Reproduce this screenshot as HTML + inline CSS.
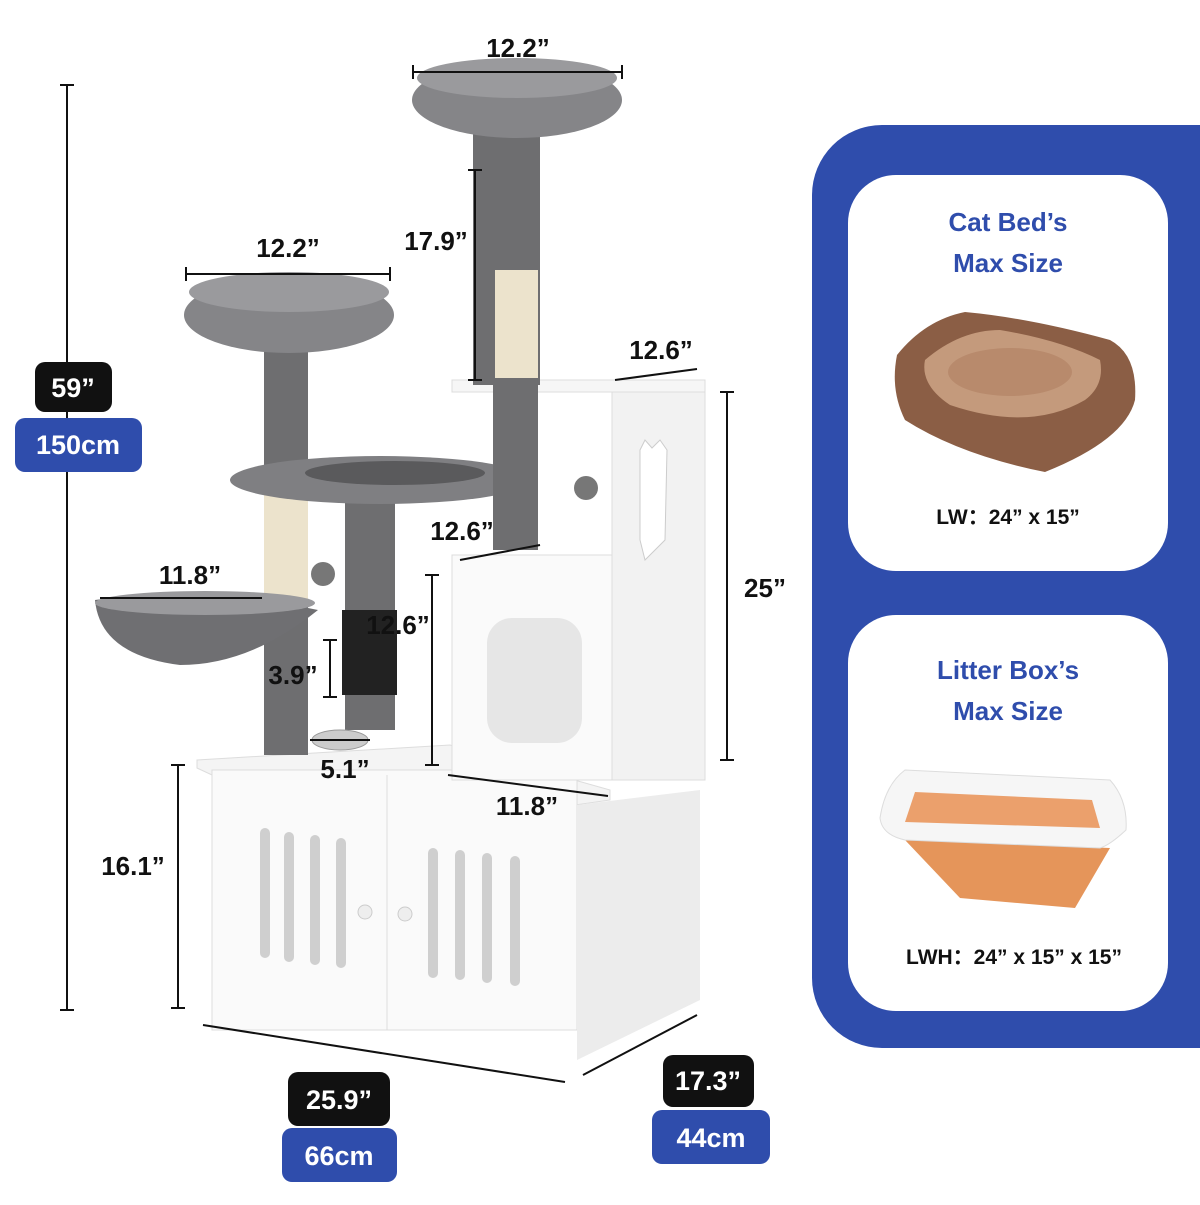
<!DOCTYPE html>
<html><head><meta charset="utf-8"><style>
body{margin:0;background:#fff;width:1200px;height:1200px;overflow:hidden;font-family:"Liberation Sans",sans-serif}
</style></head><body>
<svg width="1200" height="1200" viewBox="0 0 1200 1200" xmlns="http://www.w3.org/2000/svg" font-family="Liberation Sans, sans-serif">
<rect width="1200" height="1200" fill="#fff"/>
<!-- blue panel -->
<rect x="812" y="125" width="460" height="923" rx="70" fill="#2f4dac"/>
<rect x="848" y="175" width="320" height="396" rx="48" fill="#fff"/>
<rect x="848" y="615" width="320" height="396" rx="48" fill="#fff"/>
<g fill="#2f4dac" font-weight="bold" font-size="26" text-anchor="middle">
<text x="1008" y="231">Cat Bed’s</text><text x="1008" y="272">Max Size</text>
<text x="1008" y="679">Litter Box’s</text><text x="1008" y="720">Max Size</text>
</g>
<g fill="#111" font-weight="bold" font-size="21" text-anchor="middle">
<text x="1008" y="524">LW：24” x 15”</text>
<text x="1014" y="964">LWH：24” x 15” x 15”</text>
</g>
<!-- cat bed -->
<path d="M897 355 Q925 320 965 312 Q1030 318 1110 340 Q1138 355 1135 400 Q1125 440 1045 472 Q960 455 905 420 Q890 390 897 355Z" fill="#8b5e45"/>
<path d="M925 360 Q960 330 1000 330 Q1060 340 1100 360 Q1105 385 1085 400 Q1030 432 950 405 Q920 385 925 360Z" fill="#c49a7c"/>
<ellipse cx="1010" cy="372" rx="62" ry="24" fill="#b88a6c"/>
<!-- litter box -->
<path d="M905 840 L1110 848 L1075 908 L960 898 Z" fill="#e5955a"/>
<path d="M880 818 Q885 785 905 770 L1110 780 Q1128 800 1126 830 Q1110 845 1100 848 L905 840 Q882 835 880 818Z" fill="#f6f6f6" stroke="#ddd"/>
<path d="M915 792 L1092 800 L1100 828 L905 822 Z" fill="#eba06c"/>
<!-- left 59 line -->
<g stroke="#111" stroke-width="2">
<line x1="67" y1="85" x2="67" y2="1010"/><line x1="60" y1="85" x2="74" y2="85"/><line x1="60" y1="1010" x2="74" y2="1010"/>
</g>
<rect x="35" y="362" width="77" height="50" rx="10" fill="#111"/>
<rect x="15" y="418" width="127" height="54" rx="10" fill="#2f4dac"/>
<rect x="288" y="1072" width="102" height="54" rx="10" fill="#111"/>
<rect x="282" y="1128" width="115" height="54" rx="10" fill="#2f4dac"/>
<rect x="663" y="1055" width="91" height="52" rx="10" fill="#111"/>
<rect x="652" y="1110" width="118" height="54" rx="10" fill="#2f4dac"/>
<g fill="#fff" font-weight="bold" font-size="27" text-anchor="middle">
<text x="73" y="397">59”</text><text x="78" y="454">150cm</text>
<text x="339" y="1109">25.9”</text><text x="339" y="1165">66cm</text>
<text x="708" y="1090">17.3”</text><text x="711" y="1147">44cm</text>
</g>
<!-- cabinet -->
<polygon points="197,760 450,745 610,790 610,800 575,805 212,775 197,768" fill="#f4f4f4" stroke="#ddd"/>
<rect x="212" y="770" width="365" height="260" fill="#fafafa" stroke="#ddd"/>
<polygon points="577,805 700,790 700,1000 577,1060" fill="#ececec"/>
<line x1="387" y1="775" x2="387" y2="1030" stroke="#ddd"/>
<g fill="#cfcfcf">
<rect x="260" y="828" width="10" height="130" rx="5"/><rect x="284" y="832" width="10" height="130" rx="5"/><rect x="310" y="835" width="10" height="130" rx="5"/><rect x="336" y="838" width="10" height="130" rx="5"/>
<rect x="428" y="848" width="10" height="130" rx="5"/><rect x="455" y="850" width="10" height="130" rx="5"/><rect x="482" y="853" width="10" height="130" rx="5"/><rect x="510" y="856" width="10" height="130" rx="5"/>
</g>
<circle cx="365" cy="912" r="7" fill="#eee" stroke="#ccc"/><circle cx="405" cy="914" r="7" fill="#eee" stroke="#ccc"/>
<!-- tower -->
<rect x="612" y="380" width="93" height="400" fill="#f2f2f2" stroke="#ddd"/>
<rect x="452" y="380" width="253" height="12" fill="#f6f6f6" stroke="#ddd"/>
<rect x="452" y="555" width="160" height="225" fill="#fafafa" stroke="#ddd"/>
<rect x="487" y="618" width="95" height="125" rx="25" fill="#e6e6e6"/>
<path d="M640 450 L645 440 L652 448 L660 440 L667 450 L665 540 L645 560 L640 540Z" fill="#fff" stroke="#ccc"/>
<!-- posts -->
<rect x="473" y="125" width="67" height="260" fill="#6e6e70"/>
<rect x="495" y="270" width="43" height="108" fill="#ece3cc"/>
<ellipse cx="517" cy="100" rx="105" ry="38" fill="#858588"/>
<ellipse cx="517" cy="78" rx="100" ry="20" fill="#9a9a9d"/>
<rect x="264" y="340" width="44" height="415" fill="#6e6e70"/>
<rect x="264" y="470" width="44" height="130" fill="#ece3cc"/>
<rect x="345" y="490" width="50" height="240" fill="#6e6e70"/>
<rect x="342" y="610" width="55" height="85" fill="#222"/>
<ellipse cx="380" cy="480" rx="150" ry="24" fill="#7f7f82"/>
<ellipse cx="395" cy="473" rx="90" ry="12" fill="#5a5a5c"/>
<rect x="493" y="380" width="45" height="170" fill="#6e6e70"/>
<ellipse cx="289" cy="315" rx="105" ry="38" fill="#858588"/>
<ellipse cx="289" cy="292" rx="100" ry="20" fill="#9a9a9d"/>
<path d="M95 600 Q200 585 318 610 Q250 665 180 665 Q100 655 95 600Z" fill="#6f6f72"/>
<ellipse cx="205" cy="603" rx="110" ry="12" fill="#9a9a9d"/>
<circle cx="586" cy="488" r="12" fill="#777"/><circle cx="323" cy="574" r="12" fill="#777"/>
<ellipse cx="340" cy="740" rx="28" ry="10" fill="#ccc" stroke="#999"/>
<!-- dims -->
<g stroke="#111" stroke-width="2" fill="none">
<line x1="413" y1="72" x2="622" y2="72"/><line x1="413" y1="65" x2="413" y2="79"/><line x1="622" y1="65" x2="622" y2="79"/>
<line x1="186" y1="274" x2="390" y2="274"/><line x1="186" y1="267" x2="186" y2="281"/><line x1="390" y1="267" x2="390" y2="281"/>
<line x1="475" y1="170" x2="475" y2="380"/><line x1="468" y1="170" x2="482" y2="170"/><line x1="468" y1="380" x2="482" y2="380"/>
<line x1="615" y1="380" x2="697" y2="369"/>
<line x1="727" y1="392" x2="727" y2="760"/><line x1="720" y1="392" x2="734" y2="392"/><line x1="720" y1="760" x2="734" y2="760"/>
<line x1="460" y1="560" x2="540" y2="545"/>
<line x1="432" y1="575" x2="432" y2="765"/><line x1="425" y1="575" x2="439" y2="575"/><line x1="425" y1="765" x2="439" y2="765"/>
<line x1="330" y1="640" x2="330" y2="697"/><line x1="323" y1="640" x2="337" y2="640"/><line x1="323" y1="697" x2="337" y2="697"/>
<line x1="310" y1="740" x2="370" y2="740"/>
<line x1="100" y1="598" x2="262" y2="598"/>
<line x1="448" y1="775" x2="608" y2="796"/>
<line x1="178" y1="765" x2="178" y2="1008"/><line x1="171" y1="765" x2="185" y2="765"/><line x1="171" y1="1008" x2="185" y2="1008"/>
<line x1="203" y1="1025" x2="565" y2="1082"/>
<line x1="583" y1="1075" x2="697" y2="1015"/>
</g>
<g fill="#111" font-weight="bold" font-size="26" text-anchor="middle">
<text x="518" y="57">12.2”</text><text x="288" y="257">12.2”</text><text x="436" y="250">17.9”</text>
<text x="661" y="359">12.6”</text><text x="765" y="597">25”</text><text x="462" y="540">12.6”</text>
<text x="398" y="634">12.6”</text><text x="293" y="684">3.9”</text><text x="345" y="778">5.1”</text>
<text x="190" y="584">11.8”</text><text x="527" y="815">11.8”</text><text x="133" y="875">16.1”</text>
</g>
</svg>
</body></html>
